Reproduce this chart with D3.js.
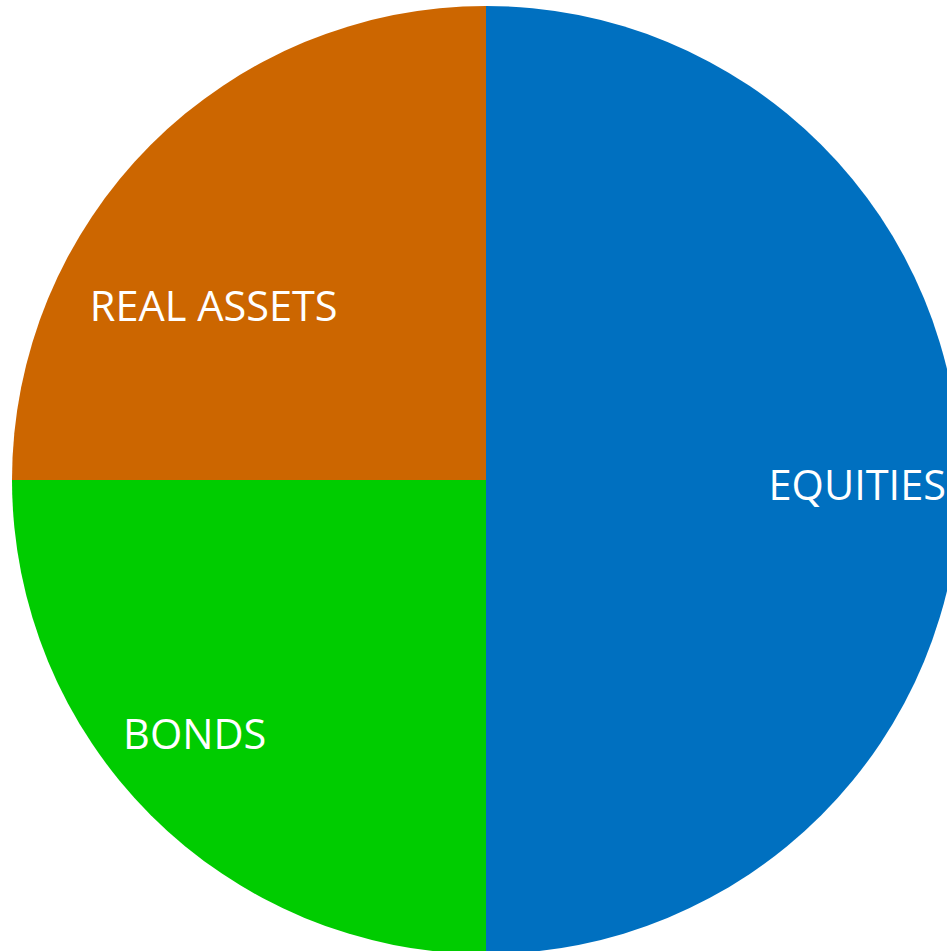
<!DOCTYPE html>
<html><head><meta charset="utf-8">
<script src="https://cdn.jsdelivr.net/npm/d3@7"></script>
<style>html,body{margin:0;padding:0;background:#fff;overflow:hidden}</style>
</head><body>
<svg id="c" width="947" height="951"></svg>
<script>
const categories = ["EQUITIES", "BONDS", "REAL ASSETS"];
const values = [50, 25, 25];
const colors = ["#0070C0", "#00CC00", "#CC6600"];

const W = 947, H = 951, cx = 486, cy = 480, r = 474;
// label nudges from the arc centroid (layout only)
const labelNudge = [[30, 4], [-50, 12], [-31, 66]];

const svg = d3.select("#c");
const g = svg.append("g").attr("transform", `translate(${cx},${cy})`);
const data = categories.map((c, i) => ({ name: c, value: values[i], i }));
const pie = d3.pie().sort(null).value(d => d.value);
const arcs = pie(data);
const arc = d3.arc().innerRadius(0).outerRadius(r);
const labelArc = d3.arc().innerRadius(r * 0.72).outerRadius(r * 0.72);

g.selectAll("path").data(arcs).join("path")
  .attr("d", arc)
  .attr("fill", d => colors[d.data.i]);

g.selectAll("text").data(arcs).join("text")
  .attr("transform", d => {
    const [x, y] = labelArc.centroid(d);
    const n = labelNudge[d.data.i];
    return `translate(${x + n[0]},${y + n[1]})`;
  })
  .attr("text-anchor", "middle")
  .attr("dominant-baseline", "central")
  .attr("fill", "#fff")
  .style("font-family", "'Open Sans', sans-serif")
  .style("font-size", "41.5px")
  .text(d => d.data.name);
</script>
</body></html>
